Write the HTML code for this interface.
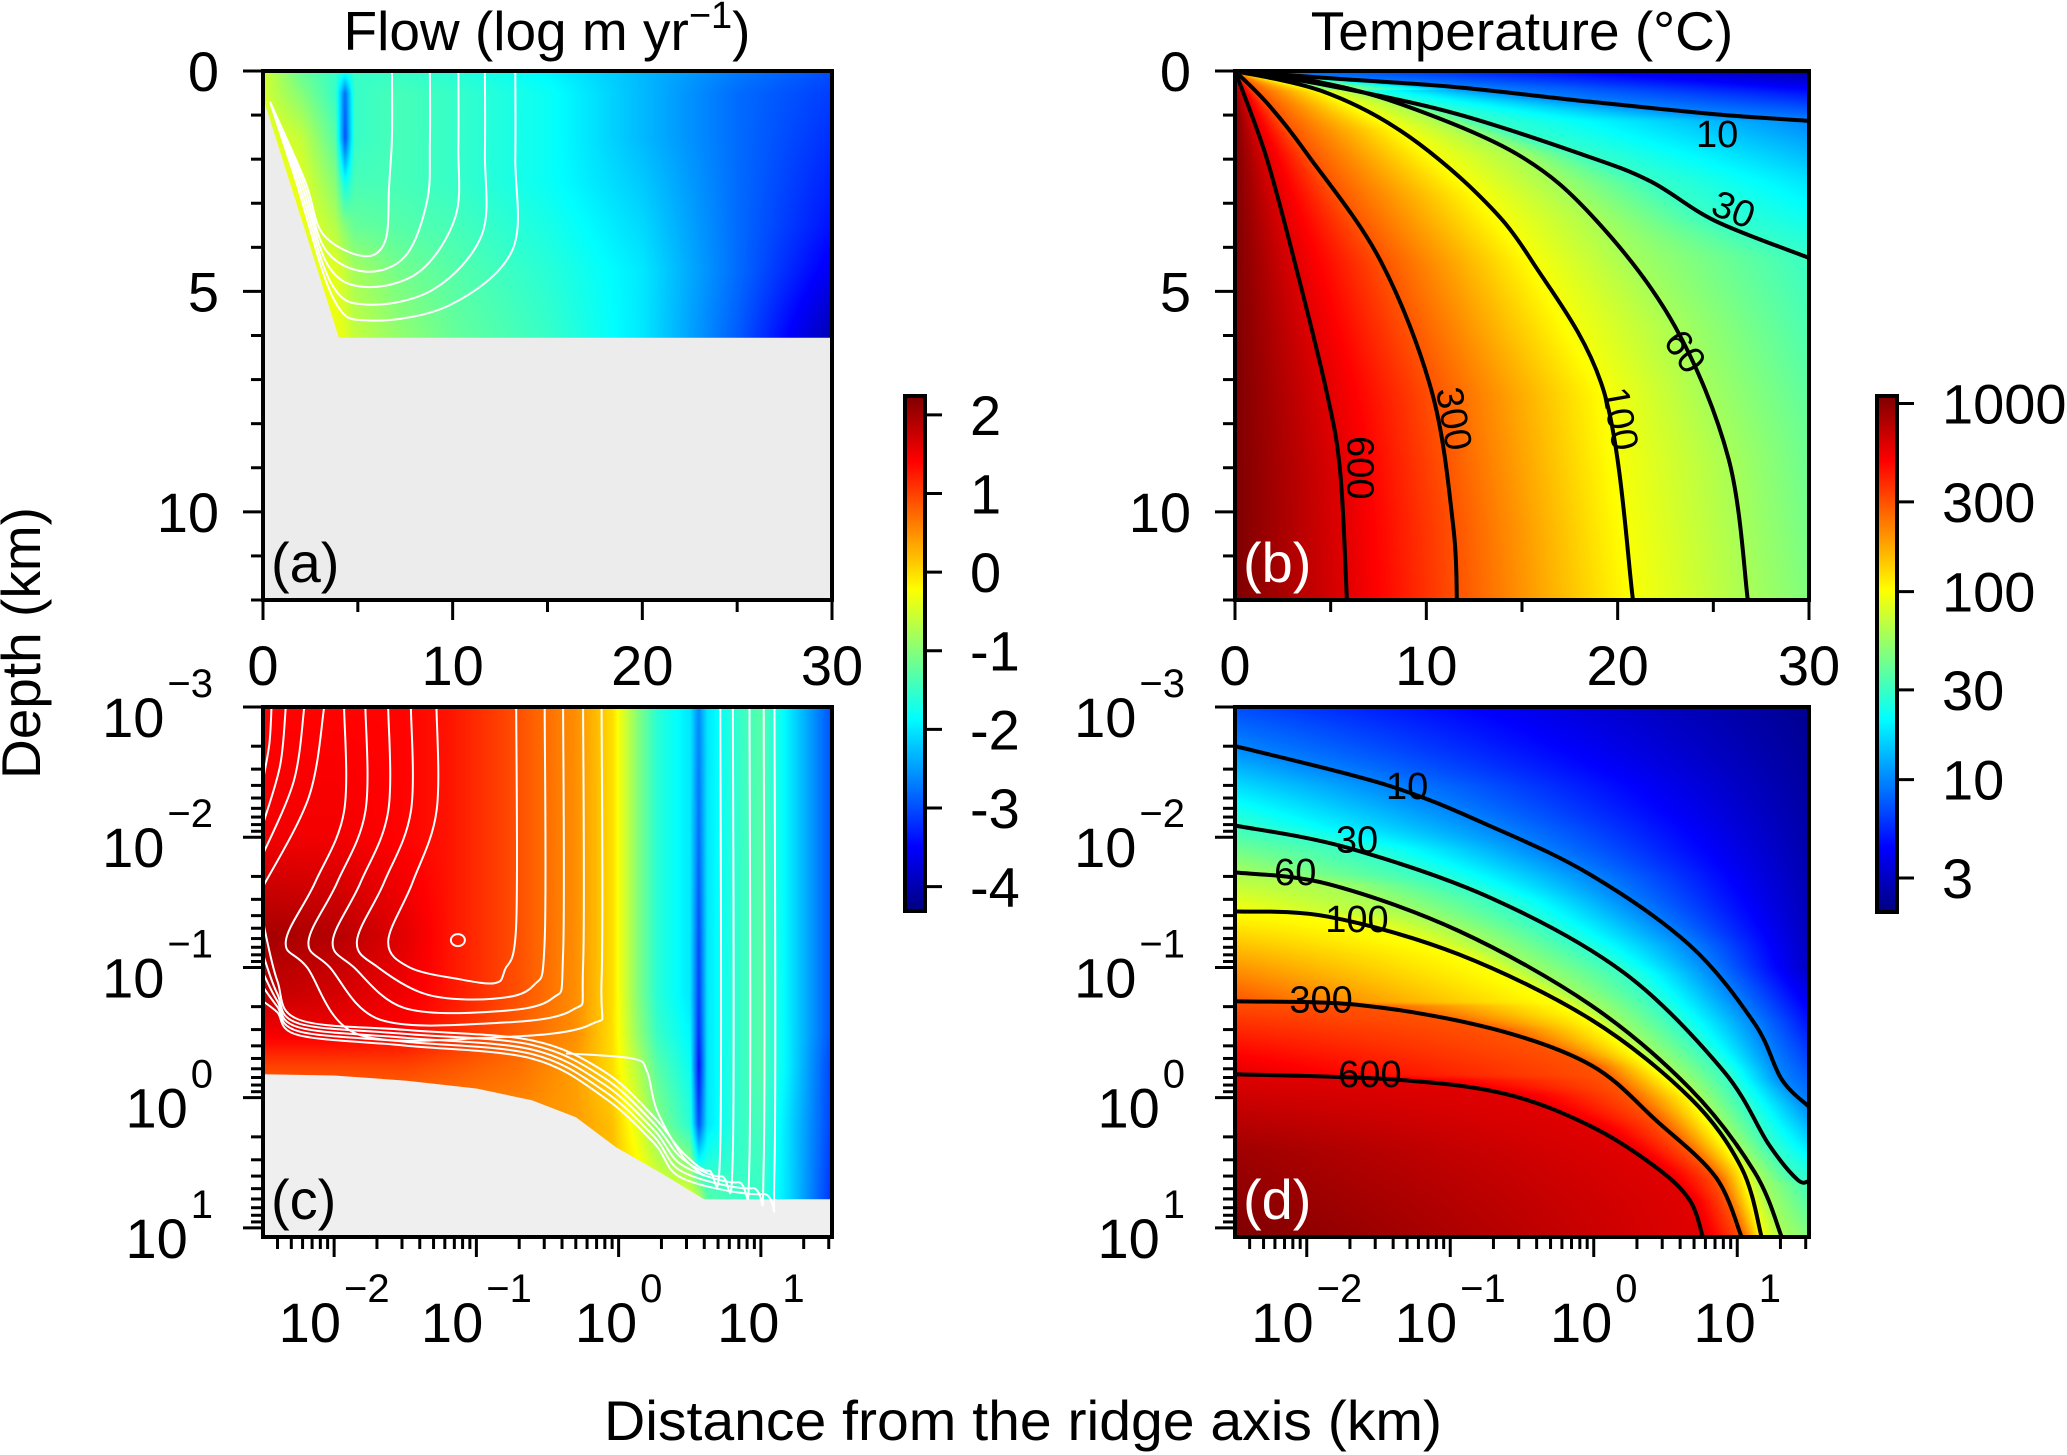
<!DOCTYPE html>
<html><head><meta charset="utf-8">
<style>
html,body{margin:0;padding:0;background:#fff;width:2067px;height:1455px;overflow:hidden}
#cv,#sv{position:absolute;left:0;top:0}
text{font-family:"Liberation Sans",Arial,sans-serif;fill:#000}
</style></head>
<body>
<canvas id="cv" width="2067" height="1455"></canvas>
<svg id="sv" width="2067" height="1455" xmlns="http://www.w3.org/2000/svg">
<g id="layer"></g>
<text x="547" y="50" font-size="55" text-anchor="middle">Flow (log m yr<tspan font-size="38" dy="-22">−1</tspan><tspan dy="22">)</tspan></text>
<text x="1522" y="50" font-size="55" text-anchor="middle">Temperature (°C)</text>
<text x="40" y="643" font-size="55" text-anchor="middle" transform="rotate(-90 40 643)">Depth (km)</text>
<text x="1023" y="1440" font-size="56" text-anchor="middle" textLength="838" lengthAdjust="spacingAndGlyphs">Distance from the ridge axis (km)</text>
</svg>
<script>
// ---------- panel (a): flow grid (log m/yr), x in km, z in km ----------
const flowAx = [0, 2, 3.8, 4.3, 4.8, 7, 10, 15, 20, 25, 30];
const flowAz = [0, 0.5, 1.5, 2.5, 3.5, 4.5, 6];
const flowAz0 = [-0.5, -1.2, -1.5, -1.7, -1.5, -1.5, -1.6, -1.9, -2.3, -2.7, -3.0];
const flowAz1 = [-0.5, -1.0, -1.5, -2.8, -1.5, -1.4, -1.5, -1.8, -2.3, -2.8, -3.1];
const flowAz2 = [-0.3, -0.6, -1.3, -3.0, -1.5, -1.4, -1.5, -1.8, -2.3, -2.8, -3.2];
const flowAz3 = [-0.2, -0.4, -1.0, -1.8, -1.4, -1.4, -1.5, -1.8, -2.2, -2.8, -3.3];
const flowAz4 = [-0.2, -0.3, -0.7, -1.0, -1.2, -1.3, -1.4, -1.7, -2.1, -2.8, -3.4];
const flowAz5 = [-0.2, -0.3, -0.4, -0.6, -0.8, -1.1, -1.3, -1.6, -2.0, -2.8, -3.6];
const flowAz6 = [-0.2, -0.2, -0.3, -0.4, -0.6, -0.9, -1.2, -1.5, -2.0, -2.9, -4.0];
const grayAx = [0, 4.0, 30, 30, 0];
const grayAz = [0.6, 6.05, 6.05, 12, 12];
const streamATopX = [6.8, 8.8, 10.3, 11.7, 13.3];
const streamABotZ = [4.2, 4.55, 4.9, 5.3, 5.66];
const streamABotX = [5.3, 5.4, 5.4, 5.5, 5.6];

// ---------- panel (c): flow grid, log10 x, log10 z ----------
const flowCx = [-2.5, -2, -1.5, -1.2, -0.7, -0.3, -0.05, 0.13, 0.27, 0.5, 0.56, 0.62, 0.85, 1.0, 1.2, 1.5];
const flowCz = [-3, -2, -1.25, -0.8, -0.5, -0.25, 0.2, 0.78];
const flowCz0 = [1.4, 1.4, 1.4, 1.3, 0.9, 0.5, 0.0, -1.0, -1.6, -2.0, -2.6, -2.0, -1.5, -1.3, -2.0, -3.0];
const flowCz1 = [1.5, 1.5, 1.4, 1.3, 0.9, 0.5, 0.0, -1.0, -1.6, -2.0, -2.8, -2.0, -1.5, -1.3, -2.0, -3.0];
const flowCz2 = [2.0, 1.9, 1.6, 1.3, 0.9, 0.5, 0.0, -1.0, -1.6, -2.0, -3.0, -2.0, -1.5, -1.3, -2.0, -3.0];
const flowCz3 = [1.8, 1.7, 1.5, 1.3, 0.9, 0.5, 0.0, -1.0, -1.6, -2.0, -3.1, -2.0, -1.5, -1.3, -2.0, -3.0];
const flowCz4 = [1.5, 1.5, 1.4, 1.2, 0.8, 0.5, 0.0, -0.9, -1.5, -1.9, -3.2, -2.0, -1.5, -1.3, -2.0, -3.0];
const flowCz5 = [1.0, 1.0, 1.0, 0.9, 0.7, 0.4, 0.0, -0.7, -1.3, -1.8, -3.4, -2.0, -1.5, -1.3, -2.0, -3.1];
const flowCz6 = [0.5, 0.5, 0.5, 0.5, 0.5, 0.4, 0.2, -0.4, -1.0, -1.6, -3.0, -2.0, -1.5, -1.4, -2.1, -3.1];
const flowCz7 = [0.3, 0.3, 0.3, 0.3, 0.3, 0.3, 0.2, 0.0, -0.3, -0.4, -0.6, -1.3, -1.5, -1.5, -2.1, -3.2];
const grayCx = [-2.5, -2.0, -1.49, -1.0, -0.61, -0.3, -0.02, 0.3, 0.6, 1.5, 1.5, -2.5];
const grayCz = [-0.18, -0.17, -0.13, -0.07, 0.02, 0.15, 0.38, 0.58, 0.78, 0.78, 1.07, 1.07];
const uLeftTop = [-1.28, -1.46, -1.62, -1.78, -1.93];
const uBulge = [-1.62, -1.84, -2.01, -2.18, -2.34];
const uBottom = [-0.88, -0.76, -0.66, -0.57, -0.46];
const uRightTop = [-0.72, -0.52, -0.39, -0.25, -0.12];
const feedTopX = [-2.44, -2.34, -2.21, -2.07];
const feedEdgeZ = [-2.44, -2.10, -1.87, -1.62];
const bandStartZ = [-1.35, -1.10, -0.96, -0.85, -0.74];
const bandRightTop = [0.715, 0.803, 0.92, 1.02, 1.096];

// ---------- panel (b): temperature contours (x km, z km) ----------
const tempLevels = [600, 300, 100, 60, 30, 10];
const contB600 = [[0,0],[1.6,1.9],[3.1,4.3],[4.8,7.3],[5.5,9.1],[5.85,12]];
const contB300 = [[0,0],[1.7,0.74],[3.8,1.9],[7.6,4.3],[10.3,7.3],[11.4,10.3],[11.6,12]];
const contB100 = [[0,0],[4.5,0.45],[8.6,1.34],[12.7,2.8],[15.5,4.3],[19.3,7.3],[20.8,12]];
const contB60 = [[0,0],[3.8,0.2],[8.6,0.74],[14.8,1.9],[18.9,3.4],[23,5.8],[25.8,8.8],[26.8,12]];
const contB30 = [[0,0],[4.5,0.3],[11.4,0.95],[18.2,1.9],[21.7,2.5],[25.1,3.4],[30,4.24]];
const contB10 = [[0,0],[4.5,0.15],[11.4,0.36],[18.2,0.68],[25.1,0.98],[30,1.13]];
const edgeBLeftZ = [0, 0.3, 1, 12];
const edgeBLeftT = [5, 900, 1100, 1100];
const edgeBRightZ = [0, 0.5, 1.13, 2.5, 4.24, 8, 12];
const edgeBRightT = [2.5, 5, 10, 18, 30, 40, 47];
const labelB = [[6.4,9.0,90],[11.3,7.9,80],[20.0,7.9,80],[23.4,6.4,55],[26.0,3.2,22],[25.2,1.5,0]];

// ---------- panel (d): temperature contours (log x, log z) ----------
const contD600 = [[-2.5,-0.18],[-1.40,-0.14],[-0.62,-0.03],[-0.02,0.22],[0.44,0.54],[0.67,0.79],[0.76,1.07]];
const contD300 = [[-2.5,-0.74],[-1.62,-0.71],[-0.71,-0.53],[-0.02,-0.25],[0.44,0.18],[0.85,0.61],[1.03,1.07]];
const contD100 = [[-2.5,-1.43],[-1.85,-1.39],[-0.94,-1.10],[-0.02,-0.60],[0.67,0.0],[1.03,0.54],[1.17,1.07]];
const contD60 = [[-2.5,-1.73],[-1.85,-1.64],[-0.94,-1.28],[-0.02,-0.71],[0.67,-0.07],[1.12,0.57],[1.31,1.07]];
const contD30 = [[-2.5,-2.09],[-1.72,-1.92],[-0.71,-1.53],[0.21,-0.96],[0.90,-0.21],[1.22,0.36],[1.42,0.63],[1.5,0.64]];
const contD10 = [[-2.5,-2.70],[-1.44,-2.40],[-0.71,-2.08],[-0.02,-1.71],[0.67,-1.17],[1.12,-0.57],[1.31,-0.14],[1.5,0.07]];
const edgeDLeftZ = [-3, -2.7, -2.09, -1.73, -1.43, -0.74, -0.18, 0.4, 1.07];
const edgeDLeftT = [7, 10, 30, 60, 100, 300, 600, 900, 1100];
const edgeDRightZ = [-3, -1, 0.07, 0.64, 1.07];
const edgeDRightT = [2.2, 3, 10, 30, 48];
// label positions in level order 600,300,100,60,30,10
const labelD = [[-1.56,-0.16],[-1.90,-0.73],[-1.65,-1.35],[-2.08,-1.71],[-1.65,-1.96],[-1.30,-2.37]];

// ---------- axes / colorbars ----------
const linTicksMajor = [0, 10, 20, 30];
const linTicksMinor = [5, 15, 25];
const depthTicksMajor = [0, 5, 10];
const logXDecades = [-2, -1, 0, 1];
const logZDecades = [-3, -2, -1, 0, 1];
const cbFlowTicks = [2, 1, 0, -1, -2, -3, -4];
const cbTempTicks = [1000, 300, 100, 30, 10, 3];

const W = 2067, H = 1455;
const PA = {x0:263, x1:832, y0:71, y1:600};
const PB = {x0:1235, x1:1809, y0:71, y1:600};
const PC = {x0:263, x1:832, y0:707, y1:1237};
const PD = {x0:1235, x1:1809, y0:707, y1:1237};
const LX0 = -2.5, LX1 = 1.5, LZ0 = -3, LZ1 = 1.07;
const linX = (P, v) => P.x0 + v / 30 * (P.x1 - P.x0);
const linY = (P, z) => P.y0 + z / 12 * (P.y1 - P.y0);
const logX = (P, l) => P.x0 + (l - LX0) / (LX1 - LX0) * (P.x1 - P.x0);
const logY = (P, l) => P.y0 + (l - LZ0) / (LZ1 - LZ0) * (P.y1 - P.y0);
const CBA = {x0:905, x1:925, y0:396, y1:911, vmin:-4.31, vmax:2.24};
const CBD = {x0:1877, x1:1897, y0:396, y1:912, vmin:0.296, vmax:3.04};

const NS = 'http://www.w3.org/2000/svg';
const layer = document.getElementById('layer');
function add(tag, attrs, parent) {
  const el = document.createElementNS(NS, tag);
  for (const k in attrs) el.setAttribute(k, attrs[k]);
  (parent || layer).appendChild(el);
  return el;
}
function interp1(xs, ys, x) {
  if (x <= xs[0]) return ys[0];
  for (let i = 1; i < xs.length; i++) {
    if (x <= xs[i]) { const t = (x - xs[i-1]) / (xs[i] - xs[i-1] || 1); return ys[i-1] + t * (ys[i] - ys[i-1]); }
  }
  return ys[ys.length - 1];
}
function jet(f) {
  f = Math.max(0, Math.min(1, f));
  const c = v => Math.round(255 * Math.max(0, Math.min(1, v)));
  return [c(1.5 - Math.abs(4*f - 3)), c(1.5 - Math.abs(4*f - 2)), c(1.5 - Math.abs(4*f - 1))];
}
function smoothPath(pts) {
  let d = 'M' + pts[0][0].toFixed(1) + ',' + pts[0][1].toFixed(1);
  for (let i = 0; i < pts.length - 1; i++) {
    const p0 = pts[i-1] || pts[i], p1 = pts[i], p2 = pts[i+1], p3 = pts[i+2] || p2;
    const c1 = [p1[0] + (p2[0]-p0[0])/6, p1[1] + (p2[1]-p0[1])/6];
    const c2 = [p2[0] - (p3[0]-p1[0])/6, p2[1] - (p3[1]-p1[1])/6];
    d += ' C' + c1.map(v=>v.toFixed(1)).join(',') + ' ' + c2.map(v=>v.toFixed(1)).join(',') + ' ' + p2.map(v=>v.toFixed(1)).join(',');
  }
  return d;
}

// ---------- heatmaps on canvas ----------
const cv = document.getElementById('cv');
const ctx = cv.getContext('2d');
const img = ctx.createImageData(W, H);
for (let i = 0; i < img.data.length; i++) img.data[i] = 255;
function setPx(px, py, rgb) { const o = (py * W + px) * 4; img.data[o] = rgb[0]; img.data[o+1] = rgb[1]; img.data[o+2] = rgb[2]; }

function paintGrid(P, xs, zs, rows, toX, toZ, vmin, vmax) {
  for (let px = P.x0; px < P.x1; px++) {
    const x = toX(px);
    const col = rows.map(r => interp1(xs, r, x));
    for (let py = P.y0; py < P.y1; py++) {
      const v = interp1(zs, col, toZ(py));
      setPx(px, py, jet((v - vmin) / (vmax - vmin)));
    }
  }
}
function paintContourField(P, lines, levels, lz, lt, rz, rt, xMin, xMax, toX, toZ, vmin, vmax) {
  const lLog = lt.map(Math.log10), rLog = rt.map(Math.log10);
  for (let py = P.y0; py < P.y1; py++) {
    const z = toZ(py);
    const pts = [[xMin, interp1(lz, lLog, z)]];
    lines.forEach((ln, i) => {
      const zz = ln.map(p => p[1]);
      if (z < zz[0] || z > zz[zz.length-1]) return;
      const x = interp1(zz, ln.map(p => p[0]), z);
      if (x > xMin && x < xMax) pts.push([x, Math.log10(levels[i])]);
    });
    pts.push([xMax, interp1(rz, rLog, z)]);
    pts.sort((a, b) => a[0] - b[0]);
    const kx = pts.map(p => p[0]), kv = pts.map(p => p[1]);
    for (let px = P.x0; px < P.x1; px++) {
      const v = interp1(kx, kv, toX(px));
      setPx(px, py, jet((v - vmin) / (vmax - vmin)));
    }
  }
}
const flowArows = [flowAz0, flowAz1, flowAz2, flowAz3, flowAz4, flowAz5, flowAz6];
const flowCrows = [flowCz0, flowCz1, flowCz2, flowCz3, flowCz4, flowCz5, flowCz6, flowCz7];
paintGrid(PA, flowAx, flowAz, flowArows, px => (px - PA.x0) / (PA.x1 - PA.x0) * 30, py => (py - PA.y0) / (PA.y1 - PA.y0) * 12, CBA.vmin, CBA.vmax);
paintGrid(PC, flowCx, flowCz, flowCrows, px => LX0 + (px - PC.x0) / (PC.x1 - PC.x0) * (LX1 - LX0), py => LZ0 + (py - PC.y0) / (PC.y1 - PC.y0) * (LZ1 - LZ0), CBA.vmin, CBA.vmax);
const contB = [contB600, contB300, contB100, contB60, contB30, contB10];
const contD = [contD600, contD300, contD100, contD60, contD30, contD10];
paintContourField(PB, contB, tempLevels, edgeBLeftZ, edgeBLeftT, edgeBRightZ, edgeBRightT, 0, 30, px => (px - PB.x0) / (PB.x1 - PB.x0) * 30, py => (py - PB.y0) / (PB.y1 - PB.y0) * 12, CBD.vmin, CBD.vmax);
paintContourField(PD, contD, tempLevels, edgeDLeftZ, edgeDLeftT, edgeDRightZ, edgeDRightT, LX0, LX1, px => LX0 + (px - PD.x0) / (PD.x1 - PD.x0) * (LX1 - LX0), py => LZ0 + (py - PD.y0) / (PD.y1 - PD.y0) * (LZ1 - LZ0), CBD.vmin, CBD.vmax);
for (let py = CBA.y0; py < CBA.y1; py++) { const v = CBA.vmax - (py - CBA.y0) / (CBA.y1 - CBA.y0) * (CBA.vmax - CBA.vmin); const c = jet((v - CBA.vmin) / (CBA.vmax - CBA.vmin)); for (let px = CBA.x0; px < CBA.x1; px++) setPx(px, py, c); }
for (let py = CBD.y0; py < CBD.y1; py++) { const v = CBD.vmax - (py - CBD.y0) / (CBD.y1 - CBD.y0) * (CBD.vmax - CBD.vmin); const c = jet((v - CBD.vmin) / (CBD.vmax - CBD.vmin)); for (let px = CBD.x0; px < CBD.x1; px++) setPx(px, py, c); }
ctx.putImageData(img, 0, 0);

// ---------- gray masks ----------
let el;
el = add('polygon', {points: grayAx.map((x, i) => linX(PA, x).toFixed(1) + ',' + linY(PA, grayAz[i]).toFixed(1)).join(' '), fill: '#ececec'});


el = add('polygon', {points: grayCx.map((x, i) => logX(PC, x).toFixed(1) + ',' + logY(PC, grayCz[i]).toFixed(1)).join(' '), fill: '#efefef'});



// ---------- streamlines panel a ----------
const bx = z => 0.2 + 0.704 * (z - 0.6);
streamATopX.forEach((xt, i) => {
  const zb = streamABotZ[i], xb = streamABotX[i], off = 0.2 + 0.12 * (4 - i);
  const pts = [[bx(0.7) + 0.1, 0.7], [bx(2.5) + off, 2.5], [bx(zb - 0.5) + off + 0.1, zb - 0.5], [xb, zb], [(xb + xt) / 2 + 0.4, zb - 0.35], [xt - 0.15, zb - 1.6], [xt, zb * 0.35], [xt, 0]];
  const p = add('path', {d: smoothPath(pts.map(q => [linX(PA, q[0]), linY(PA, q[1])])), fill: 'none', stroke: '#fff', 'stroke-width': 2});
  
  
});

// ---------- streamlines panel c ----------
function drawC(pts) {
  const p = add('path', {d: smoothPath(pts.map(q => [logX(PC, q[0]), logY(PC, q[1])])), fill: 'none', stroke: '#fff', 'stroke-width': 2});
  
  
}
uLeftTop.forEach((L, i) => {
  const B = uBulge[i], R = uRightTop[i], b = uBottom[i];
  drawC([[L, -3], [L, -2.2], [(L + B) / 2, -1.65], [B, -1.2], [B + 0.15, -1.0], [B + 0.5, b - 0.03], [(B + R) / 2 + 0.3, b], [R - 0.08, b - 0.1], [R, b - 0.45], [R, -3]]);
});
feedTopX.forEach((L, i) => {
  const e = feedEdgeZ[i];
  drawC([[L, -3], [L - (L - LX0) * 0.25, (-3 + e) / 2], [LX0, e]]);
});
bandStartZ.forEach((s, i) => {
  const R = bandRightTop[i], b = 0.56 + 0.045 * i;
  drawC([[LX0, s], [-2.4, s + (-0.6 - s) * 0.6], [-2.25, -0.6 + 0.03 * i], [-1.5, -0.52 + 0.03 * i], [-0.61, -0.44 + 0.035 * i], [-0.1, -0.2 + 0.05 * i], [0.25, 0.15 + 0.05 * i], [0.45, 0.42 + 0.05 * i], [R - 0.08, b], [R, b - 0.2], [R, -3]]);
});
drawC([[-0.37, -0.34], [0.1, -0.3], [0.2, -0.2], [0.27, 0.1], [0.45, 0.45], [0.6, 0.6]]);
el = add('ellipse', {cx: logX(PC, -1.13), cy: logY(PC, -1.21), rx: 7, ry: 6, fill: 'none', stroke: '#fff', 'stroke-width': 2});



// ---------- temperature contours ----------
contB.forEach((ln, i) => {
  const p = add('path', {d: smoothPath(ln.map(q => [linX(PB, q[0]), linY(PB, q[1])])), fill: 'none', stroke: '#000', 'stroke-width': 4});
  
  
  const lb = labelB[i];
  const t = add('text', {x: linX(PB, lb[0]), y: linY(PB, lb[1]), 'font-size': 38, 'text-anchor': 'middle', 'dominant-baseline': 'middle', transform: 'rotate(' + lb[2] + ' ' + linX(PB, lb[0]) + ' ' + linY(PB, lb[1]) + ')'});
  t.textContent = tempLevels[i];
  
  
});
contD.forEach((ln, i) => {
  const p = add('path', {d: smoothPath(ln.map(q => [logX(PD, q[0]), logY(PD, q[1])])), fill: 'none', stroke: '#000', 'stroke-width': 4});
  
  
  const lb = labelD[i];
  const t = add('text', {x: logX(PD, lb[0]), y: logY(PD, lb[1]), 'font-size': 38, 'text-anchor': 'middle', 'dominant-baseline': 'middle'});
  t.textContent = tempLevels[i];
  
  
});

// ---------- frames, ticks, labels ----------
function tick(x1, y1, x2, y2) {
  const t = add('line', {x1: x1, y1: y1, x2: x2, y2: y2, stroke: '#000', 'stroke-width': 3});
  
  
}
function label(x, y, s, size, anchor, name) {
  const t = add('text', {x: x, y: y, 'font-size': size, 'text-anchor': anchor});
  t.textContent = s;
  
  
  return t;
}
function pow10(cx, baseY, e, anchorMode, name) {
  const b = label(0, baseY, '10', 56, 'start', name);
  const ex = label(0, baseY - 40, e < 0 ? '−' + (-e) : String(e), 40, 'start', name + '-exponent');
  const w1 = b.getComputedTextLength(), w2 = ex.getComputedTextLength();
  const total = w1 + 3 + w2;
  const left = anchorMode === 'end' ? cx - total : cx - total / 2;
  b.setAttribute('x', left);
  ex.setAttribute('x', left + w1 + 3);
}
[['a', PA], ['b', PB], ['c', PC], ['d', PD]].forEach(([n, P]) => {
  const f = add('rect', {x: P.x0, y: P.y0, width: P.x1 - P.x0, height: P.y1 - P.y0, fill: 'none', stroke: '#000', 'stroke-width': 4});
  
  
});
[PA, PB].forEach(P => {
  for (let z = 0; z <= 12; z++) tick(P.x0, linY(P, z), P.x0 - (depthTicksMajor.includes(z) ? 20 : 12), linY(P, z));
  depthTicksMajor.forEach(z => { label(P.x0 - 44, linY(P, z) + 20, String(z), 56, 'end', 'y-tick-label'); });
  linTicksMajor.forEach(x => { tick(linX(P, x), P.y1, linX(P, x), P.y1 + 20); label(linX(P, x), P.y1 + 85, String(x), 56, 'middle', 'x-tick-label'); });
  linTicksMinor.forEach(x => tick(linX(P, x), P.y1, linX(P, x), P.y1 + 12));
});
[PC, PD].forEach(P => {
  logZDecades.forEach(d => {
    tick(P.x0, logY(P, d), P.x0 - 20, logY(P, d));
    pow10(P.x0 - 50, logY(P, d) + 30, d, 'end', 'y-tick-label');
    if (d < 1) for (let k = 2; k <= 9; k++) tick(P.x0, logY(P, d + Math.log10(k)), P.x0 - 12, logY(P, d + Math.log10(k)));
  });
  logXDecades.forEach(d => {
    tick(logX(P, d), P.y1, logX(P, d), P.y1 + 20);
    pow10(logX(P, d), P.y1 + 105, d, 'middle', 'x-tick-label');
  });
  [-3, -2, -1, 0, 1].forEach(d => {
    for (let k = 2; k <= 9; k++) { const l = d + Math.log10(k); if (l > LX0 && l < LX1) tick(logX(P, l), P.y1, logX(P, l), P.y1 + 12); }
  });
});
[['(a)', PA, '#000'], ['(b)', PB, '#fff'], ['(c)', PC, '#000'], ['(d)', PD, '#fff']].forEach(([s, P, c]) => {
  const t = label(P.x0 + 8, P.y1 - 18, s, 56, 'start', 'panel-label');
  t.setAttribute('style', 'fill:' + c);
});
el = add('rect', {x: CBA.x0, y: CBA.y0, width: CBA.x1 - CBA.x0, height: CBA.y1 - CBA.y0, fill: 'none', stroke: '#000', 'stroke-width': 4});


cbFlowTicks.forEach(v => {
  const y = CBA.y0 + (CBA.vmax - v) / (CBA.vmax - CBA.vmin) * (CBA.y1 - CBA.y0);
  tick(CBA.x1, y, CBA.x1 + 17, y);
  label(970, y + 20, String(v), 56, 'start', 'colorbar-flow-label');
});
el = add('rect', {x: CBD.x0, y: CBD.y0, width: CBD.x1 - CBD.x0, height: CBD.y1 - CBD.y0, fill: 'none', stroke: '#000', 'stroke-width': 4});


cbTempTicks.forEach(v => {
  const y = CBD.y0 + (CBD.vmax - Math.log10(v)) / (CBD.vmax - CBD.vmin) * (CBD.y1 - CBD.y0);
  tick(CBD.x1, y, CBD.x1 + 17, y);
  label(1942, y + 20, String(v), 56, 'start', 'colorbar-temperature-label');
});
</script>
</body></html>
